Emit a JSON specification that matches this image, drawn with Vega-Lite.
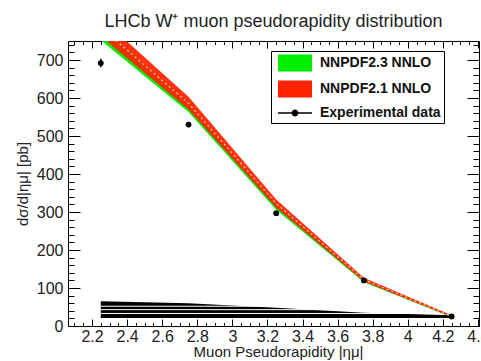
{
  "$schema": "https://vega.github.io/schema/vega-lite/v6.json",
  "width": 411,
  "height": 285,
  "autosize": {"type": "none"},
  "padding": {"left": 68, "top": 41, "right": 2, "bottom": 35},
  "background": "white",
  "config": {
    "font": "Liberation Sans",
    "view": {"stroke": "black", "strokeWidth": 1},
    "axis": {
      "grid": false,
      "domain": false,
      "tickColor": "black",
      "tickWidth": 1,
      "labelFont": "Liberation Sans",
      "labelFontSize": 16,
      "labelColor": "#222",
      "titleFont": "Liberation Sans",
      "titleFontWeight": "normal",
      "titleColor": "#222",
      "labelOverlap": false,
      "labelFlush": false
    }
  },
  "title": {
    "text": "LHCb W⁺ muon pseudorapidity distribution",
    "font": "Liberation Sans",
    "fontSize": 18,
    "fontWeight": "normal",
    "color": "#222",
    "anchor": "middle",
    "offset": 6
  },
  "datasets": {
    "bkg": [
      {"x": 2.25, "top": 65, "bottom": 21},
      {"x": 2.75, "top": 60, "bottom": 21},
      {"x": 3.25, "top": 48, "bottom": 21},
      {"x": 3.75, "top": 35, "bottom": 21},
      {"x": 4.25, "top": 28, "bottom": 21}
    ],
    "gaps": [
      {"x": 2.25, "x2": 4.25, "y": 52},
      {"x": 2.25, "x2": 4.25, "y": 43},
      {"x": 2.25, "x2": 4.25, "y": 33}
    ],
    "bands": [
      {"x": 2.25, "lo": 752, "hi": 790, "mid": 771, "series": "NNPDF2.3 NNLO"},
      {"x": 2.75, "lo": 563, "hi": 590, "mid": 576, "series": "NNPDF2.3 NNLO"},
      {"x": 3.25, "lo": 306, "hi": 322, "mid": 314, "series": "NNPDF2.3 NNLO"},
      {"x": 3.75, "lo": 115, "hi": 123, "mid": 119, "series": "NNPDF2.3 NNLO"},
      {"x": 4.25, "lo": 23, "hi": 27, "mid": 25, "series": "NNPDF2.3 NNLO"},
      {"x": 2.25, "lo": 762, "hi": 811, "mid": 786, "series": "NNPDF2.1 NNLO"},
      {"x": 2.75, "lo": 570, "hi": 603, "mid": 586, "series": "NNPDF2.1 NNLO"},
      {"x": 3.25, "lo": 311, "hi": 333, "mid": 322, "series": "NNPDF2.1 NNLO"},
      {"x": 3.75, "lo": 117, "hi": 127, "mid": 122, "series": "NNPDF2.1 NNLO"},
      {"x": 4.25, "lo": 23.5, "hi": 28, "mid": 25.7, "series": "NNPDF2.1 NNLO"}
    ],
    "exp": [
      {"x": 2.25, "y": 692, "lo": 681, "hi": 703, "series": "Experimental data"},
      {"x": 2.75, "y": 530, "lo": 523, "hi": 537, "series": "Experimental data"},
      {"x": 3.25, "y": 297, "lo": 292, "hi": 302, "series": "Experimental data"},
      {"x": 3.75, "y": 120, "lo": 117, "hi": 123, "series": "Experimental data"},
      {"x": 4.25, "y": 25, "lo": 23, "hi": 27, "series": "Experimental data"}
    ]
  },
  "resolve": {"axis": {"x": "independent", "y": "independent"}},
  "layer": [
    {
      "data": {"name": "bkg"},
      "mark": {"type": "area", "color": "black", "clip": true},
      "encoding": {
        "x": {
          "field": "x", "type": "quantitative",
          "scale": {"domain": [2.063, 4.406], "nice": false, "zero": false},
          "axis": {
            "orient": "bottom",
            "values": [2.1,2.15,2.2,2.25,2.3,2.35,2.4,2.45,2.5,2.55,2.6,2.65,2.7,2.75,2.8,2.85,2.9,2.95,3,3.05,3.1,3.15,3.2,3.25,3.3,3.35,3.4,3.45,3.5,3.55,3.6,3.65,3.7,3.75,3.8,3.85,3.9,3.95,4,4.05,4.1,4.15,4.2,4.25,4.3,4.35,4.4],
            "tickSize": {"condition": {"test": "abs(datum.value*5 - round(datum.value*5)) < 0.001", "value": -7}, "value": -3.5},
            "labelExpr": "abs(datum.value*5 - round(datum.value*5)) < 0.001 ? format(datum.value, '~g') : ''",
            "labelPadding": 9,
            "title": "Muon Pseudorapidity |ημ|",
            "titleFontSize": 15,
            "titleX": 210,
            "titleY": 30,
            "titleAlign": "center",
            "titleBaseline": "alphabetic"
          }
        },
        "y": {
          "field": "top", "type": "quantitative",
          "scale": {"domain": [0, 750], "nice": false, "zero": false},
          "axis": {
            "orient": "left",
            "values": [0,20,40,60,80,100,120,140,160,180,200,220,240,260,280,300,320,340,360,380,400,420,440,460,480,500,520,540,560,580,600,620,640,660,680,700,720,740],
            "tickSize": {"condition": {"test": "datum.value % 100 == 0", "value": -12}, "value": -6},
            "labelExpr": "datum.value % 100 == 0 ? datum.label : ''",
            "labelPadding": 17,
            "title": "dσ/d|ημ| [pb]",
            "titleFontSize": 15,
            "titleX": -46,
            "titleY": 142.5,
            "titleAngle": -90,
            "titleAlign": "center",
            "titleBaseline": "middle"
          }
        },
        "y2": {"field": "bottom"}
      }
    },
    {
      "data": {"name": "gaps"},
      "mark": {"type": "rule", "color": "white", "strokeWidth": 1},
      "encoding": {
        "x": {"field": "x", "type": "quantitative", "axis": null},
        "x2": {"field": "x2"},
        "y": {"field": "y", "type": "quantitative", "axis": null}
      }
    },
    {
      "data": {"name": "bands"},
      "transform": [{"filter": "datum.series == 'NNPDF2.3 NNLO'"}],
      "mark": {"type": "area", "clip": true, "color": "#00ee00", "opacity": 1},
      "encoding": {
        "x": {"field": "x", "type": "quantitative", "axis": null},
        "y": {"field": "lo", "type": "quantitative", "axis": null},
        "y2": {"field": "hi"}
      }
    },
    {
      "data": {"name": "bands"},
      "transform": [{"filter": "datum.series == 'NNPDF2.1 NNLO'"}],
      "mark": {"type": "area", "clip": true, "color": "#ff2200", "opacity": 0.92},
      "encoding": {
        "x": {"field": "x", "type": "quantitative", "axis": null},
        "y": {"field": "lo", "type": "quantitative", "axis": null},
        "y2": {"field": "hi"}
      }
    },
    {
      "data": {"name": "bands"},
      "transform": [{"filter": "datum.series == 'NNPDF2.1 NNLO'"}],
      "mark": {"type": "line", "clip": true, "color": "white", "strokeWidth": 1.2, "strokeDash": [2, 3], "opacity": 0.75},
      "encoding": {
        "x": {"field": "x", "type": "quantitative", "axis": null},
        "y": {"field": "mid", "type": "quantitative", "axis": null}
      }
    },
    {
      "data": {"name": "exp"},
      "mark": {"type": "rule", "color": "black", "strokeWidth": 1.5},
      "encoding": {
        "x": {"field": "x", "type": "quantitative", "axis": null},
        "y": {"field": "lo", "type": "quantitative", "axis": null},
        "y2": {"field": "hi"}
      }
    },
    {
      "data": {"name": "exp"},
      "mark": {"type": "point", "filled": true, "shape": "circle", "size": 34, "color": "black", "opacity": 1},
      "encoding": {
        "x": {"field": "x", "type": "quantitative", "axis": null},
        "y": {"field": "y", "type": "quantitative", "axis": null}
      }
    },
    {
      "data": {"name": "exp"},
      "mark": {"type": "point", "filled": true, "size": 0},
      "encoding": {
        "x": {"field": "x", "type": "quantitative", "axis": null},
        "y": {"field": "y", "type": "quantitative", "axis": null},
        "color": {
          "field": "series", "type": "nominal",
          "scale": {"domain": ["NNPDF2.3 NNLO", "NNPDF2.1 NNLO", "Experimental data"], "range": ["#00ee00", "#ff2200", "black"]},
          "legend": {
            "orient": "none",
            "legendX": 203,
            "legendY": 10,
            "title": null,
            "strokeColor": "black",
            "fillColor": "white",
            "padding": 2.5,
            "symbolOffset": 12,
            "labelOffset": 15.5,
            "rowPadding": 3,
            "symbolSize": 289,
            "symbolOpacity": 1,
            "labelFont": "Liberation Sans",
            "labelFontSize": 14,
            "labelFontWeight": "bold",
            "labelColor": "#111"
          }
        },
        "shape": {
          "field": "series", "type": "nominal",
          "scale": {
            "domain": ["NNPDF2.3 NNLO", "NNPDF2.1 NNLO", "Experimental data"],
            "range": ["M-2,-1H2V1H-2Z", "M-2,-1H2V1H-2Z", "M-2,-0.08H2V0.08H-2ZM-0.4,0A0.4,0.4 0 1 1 0.4,0A0.4,0.4 0 1 1 -0.4,0Z"]
          },
          "legend": {
            "orient": "none",
            "legendX": 203,
            "legendY": 10,
            "title": null,
            "strokeColor": "black",
            "fillColor": "white",
            "padding": 2.5,
            "symbolOffset": 12,
            "labelOffset": 15.5,
            "rowPadding": 3,
            "symbolSize": 289,
            "symbolOpacity": 1,
            "labelFont": "Liberation Sans",
            "labelFontSize": 14,
            "labelFontWeight": "bold",
            "labelColor": "#111"
          }
        }
      }
    },
    {
      "data": {"name": "exp"},
      "mark": {"type": "point", "opacity": 0},
      "encoding": {
        "x": {
          "field": "x", "type": "quantitative",
          "axis": {
            "orient": "top",
            "values": [2.1,2.15,2.2,2.25,2.3,2.35,2.4,2.45,2.5,2.55,2.6,2.65,2.7,2.75,2.8,2.85,2.9,2.95,3,3.05,3.1,3.15,3.2,3.25,3.3,3.35,3.4,3.45,3.5,3.55,3.6,3.65,3.7,3.75,3.8,3.85,3.9,3.95,4,4.05,4.1,4.15,4.2,4.25,4.3,4.35,4.4],
            "tickSize": {"condition": {"test": "abs(datum.value*5 - round(datum.value*5)) < 0.001", "value": -7}, "value": -3.5},
            "labels": false,
            "title": null
          }
        },
        "y": {
          "field": "y", "type": "quantitative",
          "axis": {
            "orient": "right",
            "values": [0,20,40,60,80,100,120,140,160,180,200,220,240,260,280,300,320,340,360,380,400,420,440,460,480,500,520,540,560,580,600,620,640,660,680,700,720,740],
            "tickSize": {"condition": {"test": "datum.value % 100 == 0", "value": -12}, "value": -6},
            "labels": false,
            "title": null
          }
        }
      }
    }
  ]
}
